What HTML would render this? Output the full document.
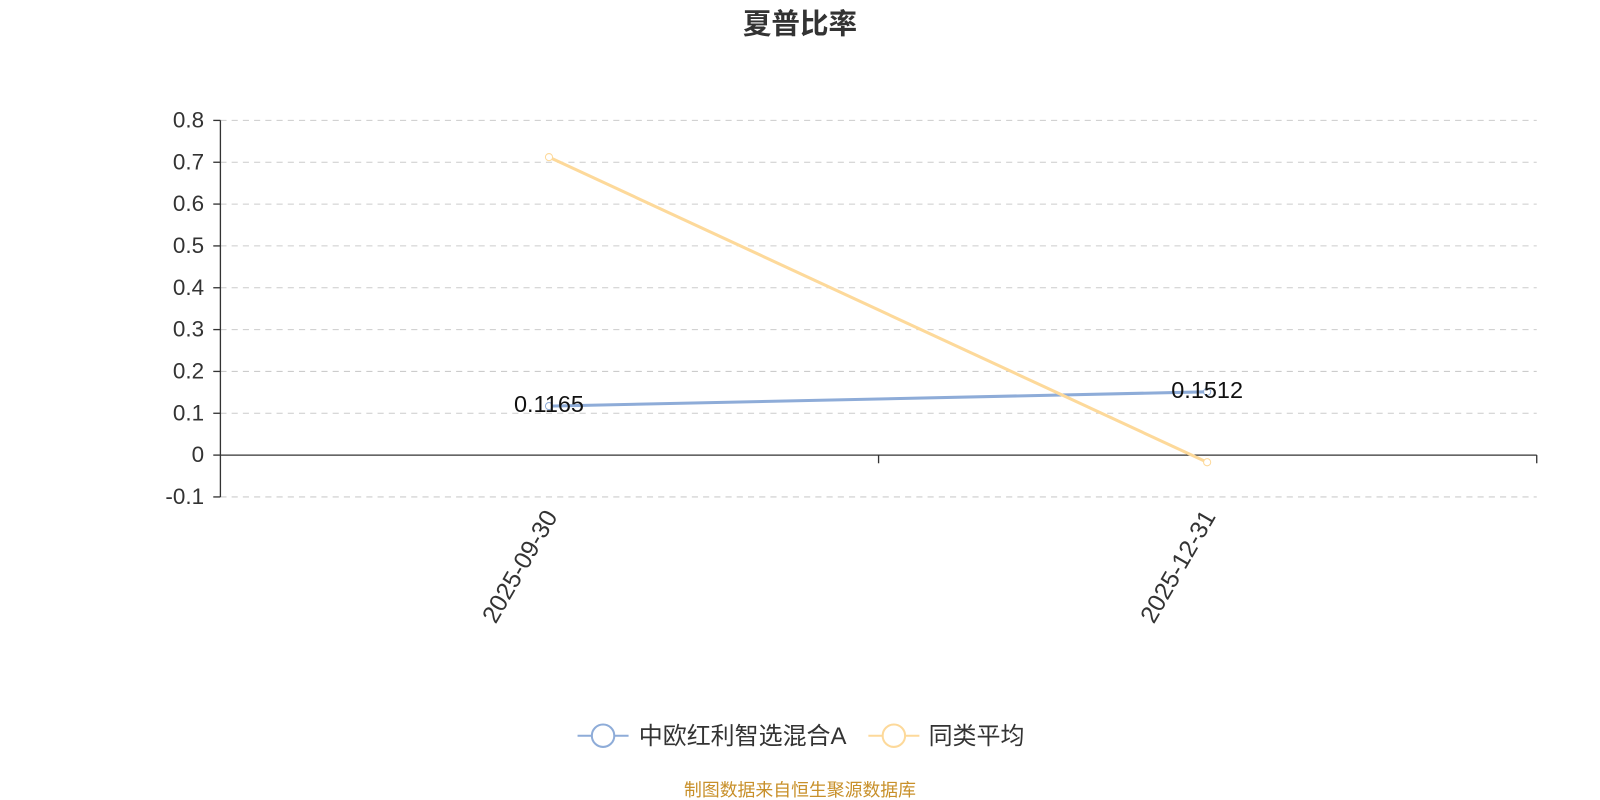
<!DOCTYPE html>
<html><head><meta charset="utf-8"><style>
html,body{margin:0;padding:0;background:#fff;width:1600px;height:800px;overflow:hidden}
text{font-family:"Liberation Sans","Noto Sans CJK SC",sans-serif}
</style></head><body>
<svg width="1600" height="800" viewBox="0 0 1568 784" xmlns="http://www.w3.org/2000/svg">
<text x="784" y="33" text-anchor="middle" font-size="28" font-weight="bold" fill="#333">夏普比率</text>
<g stroke="#ccc" stroke-dasharray="6,5" stroke-width="1">
<line x1="216" y1="118" x2="1506" y2="118"/><line x1="216" y1="159" x2="1506" y2="159"/>
<line x1="216" y1="200" x2="1506" y2="200"/><line x1="216" y1="241" x2="1506" y2="241"/>
<line x1="216" y1="282" x2="1506" y2="282"/><line x1="216" y1="323" x2="1506" y2="323"/>
<line x1="216" y1="364" x2="1506" y2="364"/><line x1="216" y1="405" x2="1506" y2="405"/>
<line x1="216" y1="487" x2="1506" y2="487"/>
</g>
<g stroke="#333" stroke-width="1.3">
<line x1="216" y1="118" x2="216" y2="487"/>
<line x1="216" y1="446" x2="1506" y2="446"/>
<line x1="209" y1="118" x2="216" y2="118"/><line x1="209" y1="159" x2="216" y2="159"/>
<line x1="209" y1="200" x2="216" y2="200"/><line x1="209" y1="241" x2="216" y2="241"/>
<line x1="209" y1="282" x2="216" y2="282"/><line x1="209" y1="323" x2="216" y2="323"/>
<line x1="209" y1="364" x2="216" y2="364"/><line x1="209" y1="405" x2="216" y2="405"/>
<line x1="209" y1="446" x2="216" y2="446"/><line x1="209" y1="487" x2="216" y2="487"/>
<line x1="861" y1="446" x2="861" y2="454"/><line x1="1506" y1="446" x2="1506" y2="454"/>
</g>
<g font-size="22" fill="#333" text-anchor="end">
<text x="200" y="125">0.8</text><text x="200" y="166">0.7</text><text x="200" y="207">0.6</text>
<text x="200" y="248">0.5</text><text x="200" y="289">0.4</text><text x="200" y="330">0.3</text>
<text x="200" y="371">0.2</text><text x="200" y="412">0.1</text><text x="200" y="453">0</text>
<text x="200" y="494">-0.1</text>
</g>
<g font-size="24" fill="#333" text-anchor="end">
<text transform="translate(547,506) rotate(-60)">2025-09-30</text>
<text transform="translate(1192,506) rotate(-60)">2025-12-31</text>
</g>
<polyline points="538,398 1183,384" fill="none" stroke="#8eacd8" stroke-width="3"/>
<polyline points="538,154 1183,453" fill="none" stroke="#fdd99a" stroke-width="3"/>
<circle cx="538" cy="398" r="3.5" fill="#fff" stroke="#8eacd8"/>
<circle cx="1183" cy="384" r="3.5" fill="#fff" stroke="#8eacd8"/>
<circle cx="538" cy="154" r="3.5" fill="#fff" stroke="#fdd99a"/>
<circle cx="1183" cy="453" r="3.5" fill="#fff" stroke="#fdd99a"/>
<text x="538" y="404" font-size="23" fill="#111" text-anchor="middle">0.1165</text>
<text x="1183" y="390" font-size="23" fill="#111" text-anchor="middle">0.1512</text>
<line x1="566" y1="721" x2="616" y2="721" stroke="#8eacd8" stroke-width="2"/>
<circle cx="591" cy="721" r="11" fill="#fff" stroke="#8eacd8" stroke-width="2"/>
<text x="626" y="729" font-size="23.5" fill="#333">中欧红利智选混合A</text>
<line x1="851" y1="721" x2="901" y2="721" stroke="#fdd99a" stroke-width="2"/>
<circle cx="876" cy="721" r="11" fill="#fff" stroke="#fdd99a" stroke-width="2"/>
<text x="910" y="729" font-size="23.5" fill="#333">同类平均</text>
<text x="784" y="780" font-size="17.5" fill="#c8902a" text-anchor="middle">制图数据来自恒生聚源数据库</text>
</svg>
</body></html>
